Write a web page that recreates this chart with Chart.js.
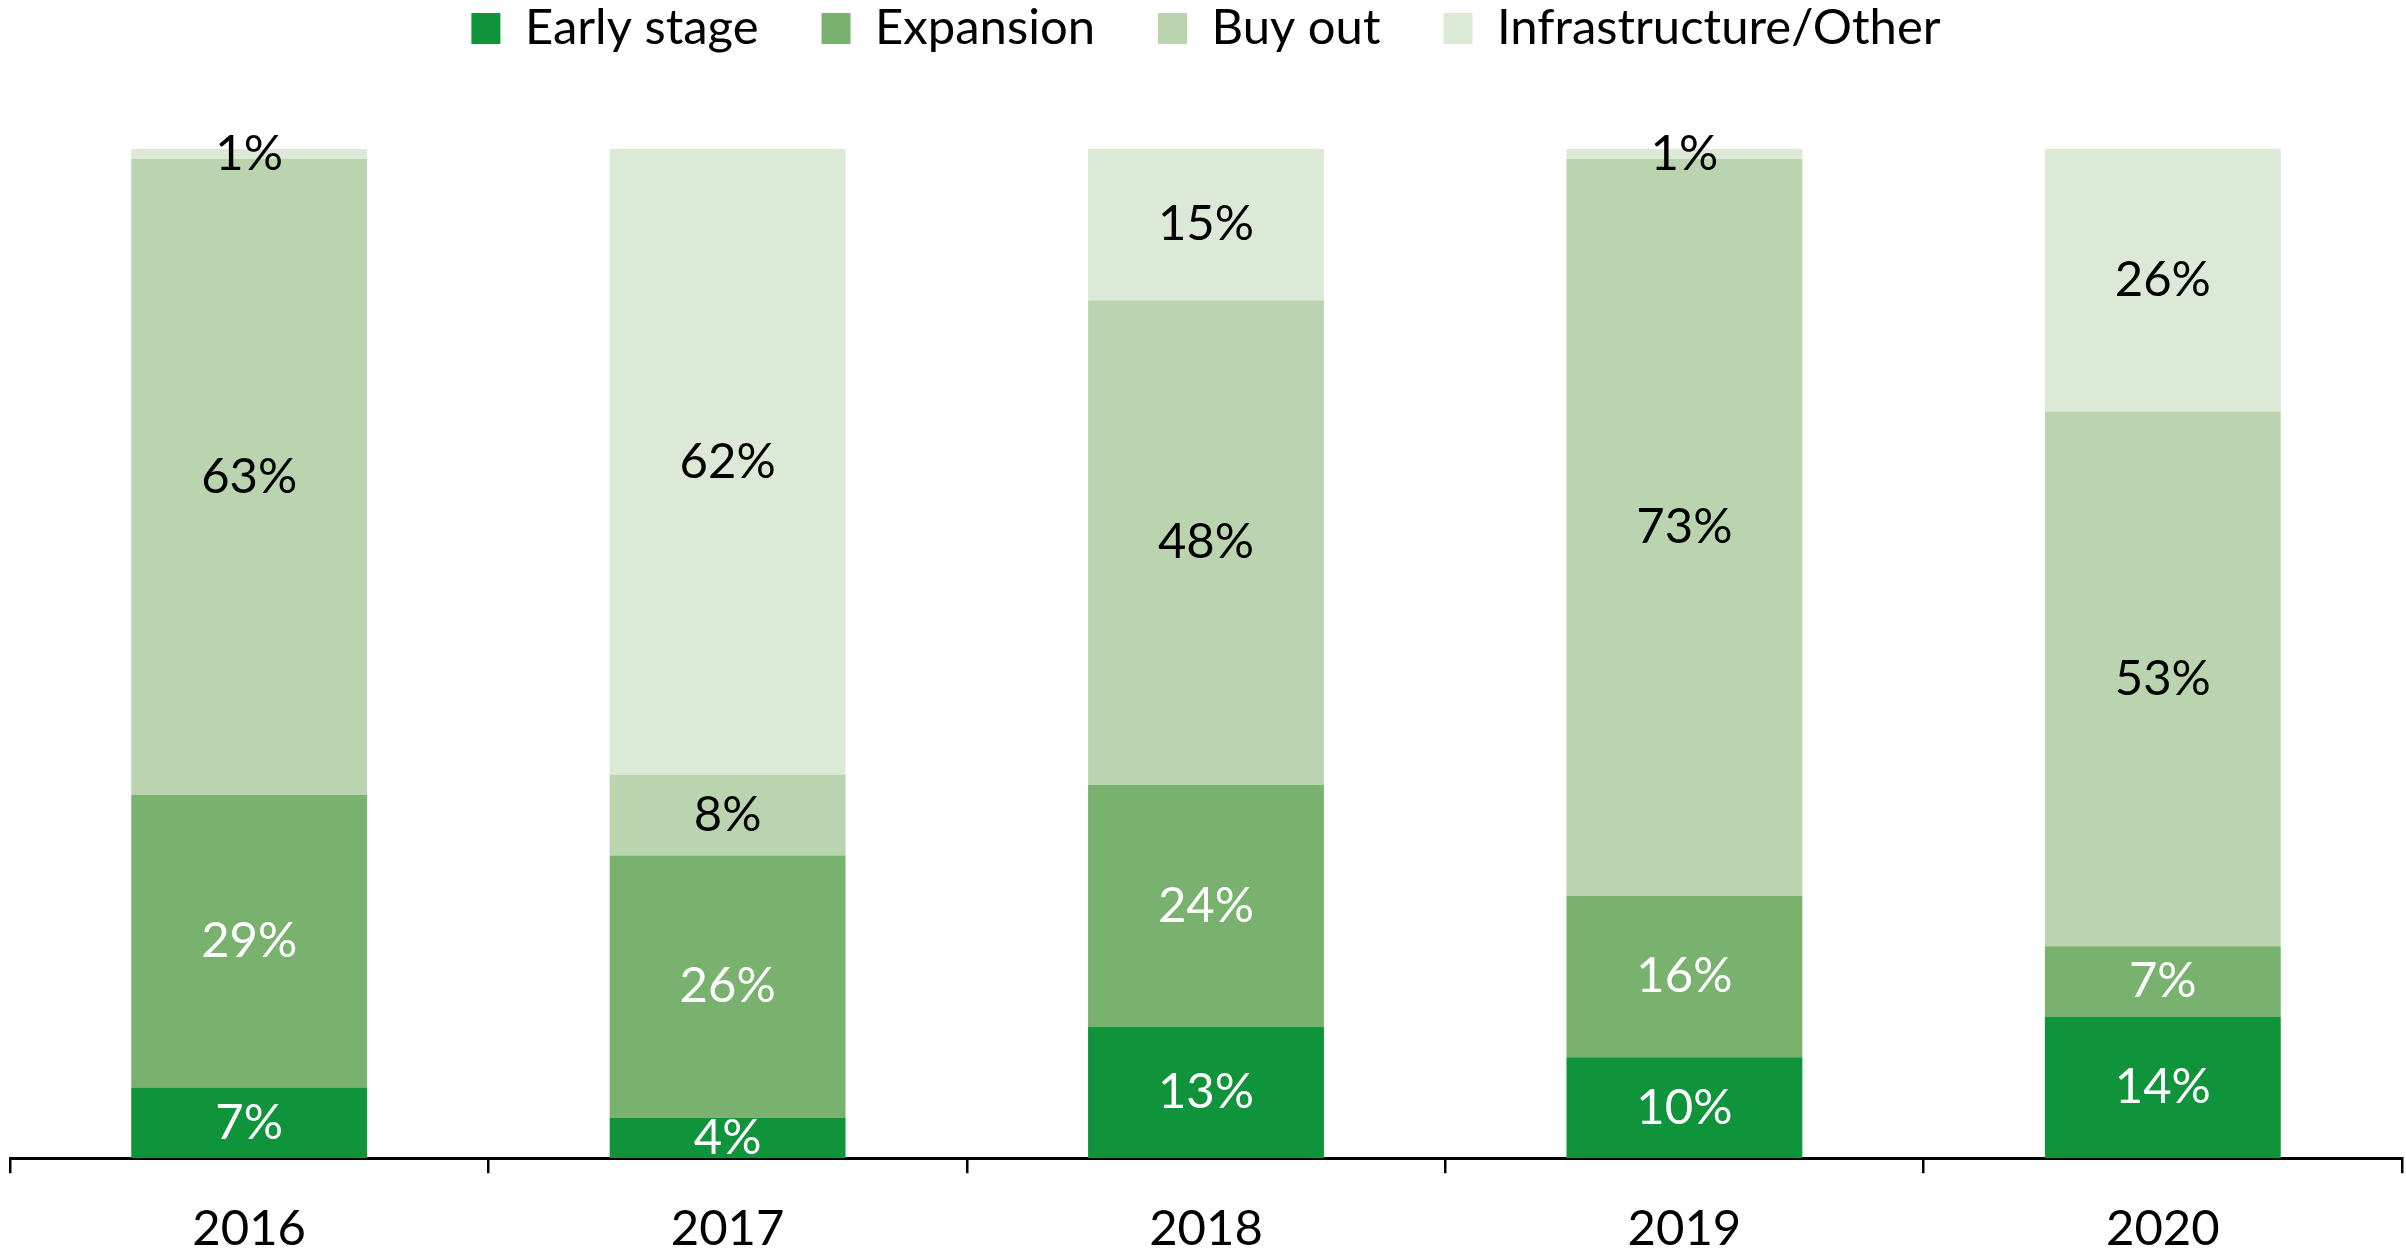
<!DOCTYPE html>
<html>
<head>
<meta charset="utf-8">
<script src="https://cdn.jsdelivr.net/npm/chart.js@4"></script>
<style>
  html, body { margin: 0; padding: 0; background: #fff; }
  canvas { display: block; }
</style>
</head>
<body>
<canvas id="chart" width="2406" height="1250"></canvas>
<script>
// 데이터
const years = ['2016', '2017', '2018', '2019', '2020'];
const earlyStage = [7, 4, 13, 10, 14];
const expansion = [29, 26, 24, 16, 7];
const buyOut = [63, 8, 48, 73, 53];
const infraOther = [1, 62, 15, 1, 26];
const yTicks = [0, 100];

Chart.defaults.font.family = 'Lato, "Open Sans", sans-serif';
Chart.defaults.font.size = 49;
Chart.defaults.color = '#000';

// 막대 가운데에 값 표시
const valueLabels = {
    id: 'valueLabels',
    afterDatasetsDraw(chart) {
        const ctx = chart.ctx;
        ctx.save();
        ctx.font = '49px Lato, "Open Sans", sans-serif';
        ctx.textAlign = 'center';
        ctx.textBaseline = 'middle';
        chart.data.datasets.forEach((ds, i) => {
            const meta = chart.getDatasetMeta(i);
            ctx.fillStyle = ds.labelColor;
            meta.data.forEach((bar, j) => {
                ctx.fillText(ds.data[j] + '%', bar.x, (bar.y + bar.base) / 2);
            });
        });
        ctx.restore();
    }
};

// 범례 높이 조정 (차트 영역 위쪽 여백)
const legendGap = {
    id: 'legendGap',
    beforeInit(chart) {
        const fit = chart.legend.fit;
        chart.legend.fit = function () {
            fit.bind(chart.legend)();
            this.height = 208;
        };
    }
};

new Chart(document.getElementById('chart'), {
    type: 'bar',
    data: {
        labels: years,
        datasets: [
            { label: 'Early stage', data: earlyStage, backgroundColor: '#0f933b', labelColor: '#fff' },
            { label: 'Expansion', data: expansion, backgroundColor: '#79b26f', labelColor: '#fff' },
            { label: 'Buy out', data: buyOut, backgroundColor: '#bad4af', labelColor: '#000' },
            { label: 'Infrastructure/Other', data: infraOther, backgroundColor: '#dce9d6', labelColor: '#000' }
        ]
    },
    options: {
        responsive: false,
        animation: false,
        layout: { padding: { top: -59, left: 10, right: 4, bottom: -36 } },
        datasets: { bar: { categoryPercentage: 1, barPercentage: 0.493, borderWidth: 0 } },
        plugins: {
            legend: {
                position: 'top',
                labels: { boxWidth: 29, boxHeight: 31, padding: 63, font: { size: 49 } }
            },
            tooltip: { enabled: false }
        },
        scales: {
            x: {
                stacked: true,
                grid: { offset: true, drawOnChartArea: false, drawTicks: true, tickLength: 15, color: '#000', lineWidth: 2.5 },
                border: { color: '#000', width: 3 },
                ticks: { padding: 27, font: { size: 49 } }
            },
            y: {
                stacked: true,
                display: false,
                min: yTicks[0],
                max: yTicks[1]
            }
        }
    },
    plugins: [valueLabels, legendGap]
});
</script>
</body>
</html>
